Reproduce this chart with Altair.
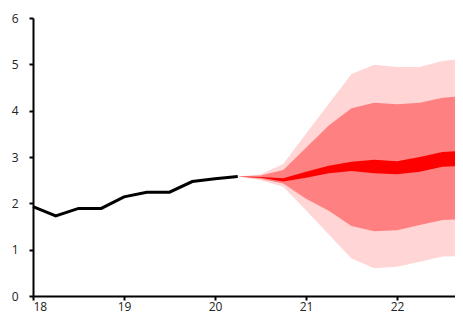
import altair as alt
import pandas as pd

# Historical series (quarterly, decimal years)
hist_x = [18.0, 18.25, 18.5, 18.75, 19.0, 19.25, 19.5, 19.75, 20.0, 20.25]
hist_y = [1.93, 1.73, 1.89, 1.89, 2.14, 2.24, 2.24, 2.47, 2.53, 2.58]

# Fan chart bands
fan_x = [20.25, 20.5, 20.75, 21.0, 21.25, 21.5, 21.75, 22.0, 22.25, 22.5, 22.75]
outer_hi = [2.58, 2.62, 2.85, 3.50, 4.15, 4.79, 4.99, 4.94, 4.94, 5.07, 5.13]
inner_hi = [2.58, 2.60, 2.72, 3.20, 3.68, 4.05, 4.17, 4.14, 4.17, 4.28, 4.32]
mid_hi = [2.58, 2.57, 2.54, 2.68, 2.81, 2.90, 2.94, 2.91, 3.00, 3.11, 3.14]
mid_lo = [2.58, 2.55, 2.47, 2.55, 2.65, 2.70, 2.65, 2.63, 2.68, 2.79, 2.81]
inner_lo = [2.58, 2.53, 2.43, 2.10, 1.84, 1.51, 1.40, 1.42, 1.53, 1.64, 1.66]
outer_lo = [2.58, 2.50, 2.36, 1.85, 1.33, 0.81, 0.60, 0.63, 0.74, 0.85, 0.86]

x_ticks = [18, 19, 20, 21, 22]
y_ticks = [0, 1, 2, 3, 4, 5, 6]

hist = pd.DataFrame({"x": hist_x, "y": hist_y})
fan = pd.DataFrame({
    "x": fan_x, "ohi": outer_hi, "ihi": inner_hi, "mhi": mid_hi,
    "mlo": mid_lo, "ilo": inner_lo, "olo": outer_lo,
})

FONT = "Open Sans"

xscale = alt.Scale(domain=[18, 22.637], nice=False, zero=False)
yscale = alt.Scale(domain=[0, 6], nice=False)

xaxis = alt.Axis(values=x_ticks, format="d", title=None, grid=False,
                 domainColor="black", domainWidth=2, tickColor="black",
                 tickWidth=2, tickSize=4, labelPadding=1, labelFont=FONT,
                 labelFontSize=12, labelColor="#222222")
yaxis = alt.Axis(values=y_ticks, title=None, grid=False,
                 domainColor="black", domainWidth=2, tickColor="black",
                 tickWidth=2, tickSize=4, labelPadding=11, labelFont=FONT,
                 labelFontSize=12, labelColor="#222222")

base = alt.Chart(fan)

outer = base.mark_area(color="#FFD5D5", opacity=1, clip=True).encode(
    x=alt.X("x:Q", scale=xscale, axis=xaxis),
    y=alt.Y("olo:Q", scale=yscale, axis=yaxis),
    y2="ohi:Q",
)
inner = base.mark_area(color="#FF8080", opacity=1, clip=True).encode(
    x=alt.X("x:Q", scale=xscale), y=alt.Y("ilo:Q", scale=yscale), y2="ihi:Q"
)
mid = base.mark_area(color="#FF0000", opacity=1, clip=True).encode(
    x=alt.X("x:Q", scale=xscale), y=alt.Y("mlo:Q", scale=yscale), y2="mhi:Q"
)
line = alt.Chart(hist).mark_line(color="black", strokeWidth=3).encode(
    x=alt.X("x:Q", scale=xscale), y=alt.Y("y:Q", scale=yscale)
)

chart = alt.layer(outer, inner, mid, line).properties(
    width=422, height=278,
    autosize=alt.AutoSizeParams(type="none"),
    padding={"left": 25, "top": 10, "right": 0, "bottom": 18},
).configure_view(stroke=None)

chart.save("out.html", embed_options={"renderer": "svg", "actions": False})
